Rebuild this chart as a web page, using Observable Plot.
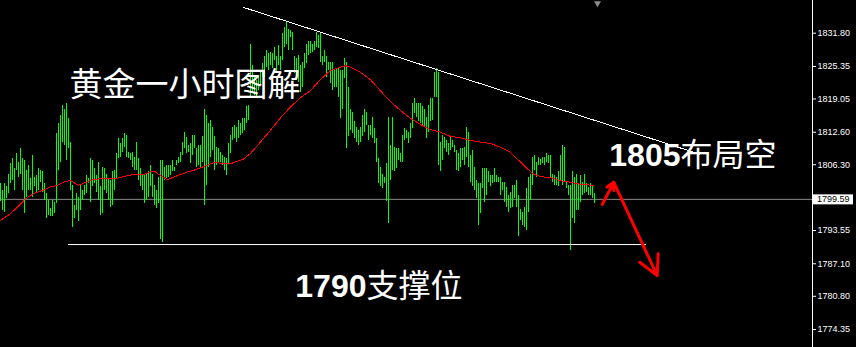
<!DOCTYPE html>
<html><head><meta charset="utf-8">
<script src="https://cdn.jsdelivr.net/npm/d3@7"></script>
<script src="https://cdn.jsdelivr.net/npm/@observablehq/plot@0.6"></script>
<style>
html,body{margin:0;padding:0;background:#000;}
#chart svg{display:block}
</style></head><body><div id="chart"></div>
<script>
// hourly bar highs / lows (gold, 1H)
const highs = [
1802.6,1801.3,1802.6,1802.0,1804.5,1806.5,1807.5,1805.5,1808.4,1806.8,
1809.4,1807.5,1807.1,1805.2,1806.2,1803.6,1808.1,1803.9,1804.2,1805.5,
1805.2,1804.9,1802.6,1800.7,1799.4,1797.8,1799.4,1799.0,1812.3,1814.2,
1815.8,1817.8,1817.1,1818.1,1815.2,1810.7,1802.3,1798.4,1800.7,1800.0,
1802.3,1801.3,1802.3,1804.2,1803.6,1807.5,1807.1,1805.5,1804.2,1806.8,
1802.0,1805.8,1805.5,1804.5,1803.6,1803.3,1804.9,1805.2,1808.4,1811.3,
1810.4,1811.3,1812.3,1812.0,1808.7,1808.4,1808.7,1807.8,1810.7,1807.5,
1805.5,1804.5,1804.2,1804.5,1804.9,1806.2,1804.5,1802.3,1801.3,1803.9,
1807.1,1807.1,1805.8,1806.2,1806.2,1806.2,1807.1,1805.8,1807.1,1807.8,
1808.7,1810.7,1812.6,1811.6,1810.0,1810.4,1812.0,1812.0,1809.4,1810.0,
1810.0,1811.7,1817.1,1815.9,1814.2,1814.9,1813.6,1811.7,1809.7,1809.4,
1808.7,1808.1,1807.8,1807.5,1810.4,1812.0,1813.6,1813.9,1813.6,1814.9,
1814.2,1815.2,1815.2,1817.5,1817.8,1829.7,1825.5,1823.3,1822.6,1823.6,
1824.6,1825.9,1827.2,1828.5,1827.8,1828.1,1827.8,1829.1,1827.2,1829.4,
1827.2,1831.7,1833.0,1833.9,1832.6,1832.3,1832.0,1827.2,1826.8,1827.5,
1825.5,1826.2,1827.8,1829.7,1830.1,1830.1,1829.7,1830.1,1832.0,1831.4,
1831.7,1827.2,1828.4,1827.2,1826.2,1826.2,1826.2,1824.6,1824.9,1825.2,
1824.6,1824.6,1826.8,1826.2,1821.3,1817.1,1816.5,1814.6,1813.6,1813.0,
1813.6,1815.9,1817.1,1816.5,1813.9,1813.9,1815.5,1813.3,1811.3,1807.5,
1805.8,1804.5,1803.9,1806.5,1815.5,1810.0,1815.5,1809.7,1809.4,1809.4,
1808.4,1812.0,1813.3,1812.9,1812.6,1814.2,1818.1,1819.1,1818.1,1818.1,
1818.1,1817.5,1817.1,1815.5,1817.8,1819.1,1819.1,1824.2,1824.9,1824.2,
1810.7,1812.0,1811.6,1811.0,1810.4,1811.6,1811.0,1810.0,1809.1,1808.4,
1809.4,1809.4,1809.7,1813.6,1812.6,1808.1,1809.1,1805.8,1803.3,1802.6,
1802.6,1805.5,1805.5,1805.5,1804.9,1804.2,1804.2,1805.5,1804.2,1803.9,
1803.9,1802.9,1802.9,1801.9,1800.3,1801.0,1802.3,1802.3,1803.2,1800.3,
1797.7,1797.1,1798.1,1801.6,1803.9,1804.5,1807.8,1808.1,1806.8,1807.8,
1807.4,1807.8,1807.8,1808.4,1808.1,1808.1,1804.5,1804.2,1803.9,1804.9,
1808.1,1810.0,1809.7,1802.9,1802.3,1802.3,1804.9,1803.9,1804.5,1802.6,
1804.2,1802.9,1804.5,1802.6,1801.9,1802.6,1802.3,1800.7
];
const lows = [
1799.1,1797.4,1797.1,1799.7,1800.7,1802.6,1803.3,1801.3,1805.2,1803.9,
1804.5,1801.3,1796.8,1800.0,1801.3,1801.3,1800.0,1802.0,1800.7,1801.3,
1802.9,1801.0,1799.4,1795.8,1796.5,1796.2,1796.2,1796.8,1798.7,1805.2,
1806.8,1810.7,1810.0,1807.1,1809.4,1801.3,1794.2,1795.8,1797.4,1795.2,
1797.4,1799.4,1800.3,1800.7,1802.6,1799.0,1802.0,1802.6,1801.0,1799.4,
1796.5,1796.8,1801.3,1800.7,1799.4,1798.1,1798.4,1801.3,1803.6,1807.5,
1807.8,1808.7,1809.7,1807.8,1807.5,1807.1,1805.8,1805.2,1805.2,1803.3,
1802.0,1801.3,1798.7,1799.4,1800.0,1802.0,1800.0,1798.4,1797.8,1798.7,
1791.9,1791.3,1803.3,1803.6,1803.9,1804.2,1804.9,1804.9,1806.2,1806.5,
1806.8,1808.1,1809.4,1808.4,1808.7,1806.5,1808.1,1809.4,1805.8,1806.2,
1805.8,1806.8,1798.4,1802.3,1805.8,1807.8,1809.1,1805.2,1806.2,1806.5,
1806.8,1806.2,1805.2,1804.2,1806.5,1808.4,1811.0,1811.3,1810.7,1811.3,
1812.0,1812.3,1812.9,1814.2,1814.9,1819.1,1820.4,1819.7,1819.4,1820.7,
1821.7,1823.3,1823.3,1825.2,1824.6,1825.5,1824.9,1826.5,1823.9,1825.5,
1824.6,1826.5,1829.1,1829.7,1828.4,1831.0,1828.4,1823.9,1822.6,1822.3,
1820.4,1821.3,1824.9,1825.9,1827.5,1827.8,1828.1,1828.4,1829.1,1828.8,
1826.2,1825.5,1826.2,1823.3,1824.6,1822.0,1820.7,1821.3,1821.3,1819.4,
1815.2,1817.1,1823.0,1809.4,1811.7,1813.0,1812.3,1811.3,1810.7,1810.0,
1810.7,1811.7,1812.6,1813.9,1811.0,1812.0,1811.3,1810.4,1806.8,1802.6,
1802.0,1801.6,1802.6,1799.1,1794.9,1803.3,1805.2,1804.9,1805.5,1807.1,
1806.8,1806.8,1811.0,1811.3,1810.4,1811.3,1813.3,1816.2,1815.5,1814.6,
1814.2,1813.9,1813.6,1811.3,1812.6,1814.6,1814.9,1819.4,1819.4,1806.2,
1804.9,1807.1,1809.4,1808.7,1808.1,1809.1,1809.7,1808.7,1805.2,1804.9,
1805.8,1807.1,1806.2,1807.8,1805.8,1802.9,1802.0,1801.3,1799.7,1794.5,
1796.8,1801.6,1799.0,1800.3,1802.9,1802.0,1802.6,1802.9,1802.9,1802.9,
1800.3,1801.3,1799.0,1798.1,1797.1,1797.8,1798.1,1799.7,1798.1,1792.4,
1795.5,1794.5,1794.2,1793.6,1797.1,1799.4,1802.3,1805.2,1803.9,1806.1,
1806.1,1806.5,1806.1,1806.8,1806.5,1803.6,1802.9,1802.3,1802.3,1802.0,
1803.2,1802.3,1802.9,1801.6,1800.3,1789.7,1795.8,1794.9,1797.4,1797.4,
1799.0,1800.3,1800.7,1801.0,1800.3,1800.3,1799.7,1798.7
];
// red moving average, read at bar positions
const maIndex = [0,5,10,12.5,16.5,21.5,25,28.5,32.5,35,39,41.5,46,50,55,58.5,63.5,66.5,71.5,75,77.5,80,83.5,88.5,93.5,96.5,100,106.5,115,121.5,125,130,135,140,145,150,155,160,165,170,172.5,175,180,185,190,193.5,196.5,200,205,210,215,220,225,230,235,240,245,250,255,260,263.5,266.5,270,275,280,285,290,296.5];
const maValue = [1795.5,1796.8,1798.7,1799.7,1800.7,1801.4,1802.0,1802.3,1803.1,1803.2,1802.3,1802.7,1803.4,1803.6,1803.6,1803.7,1804.2,1804.4,1804.4,1804.9,1804.9,1804.2,1803.4,1804.2,1804.9,1805.2,1805.7,1806.7,1806.5,1807.4,1808.5,1810.7,1813.0,1815.4,1817.5,1819.3,1820.7,1822.8,1824.6,1825.2,1825.5,1825.2,1824.2,1822.8,1820.6,1819.1,1818.0,1816.8,1815.3,1814.1,1813.1,1812.6,1811.8,1811.5,1811.0,1810.7,1810.4,1809.7,1808.7,1806.8,1805.5,1804.5,1804.0,1803.8,1803.2,1802.9,1802.5,1802.3];

const yTicks = [1831.80,1825.35,1819.05,1812.60,1806.30,1793.55,1787.10,1780.80,1774.35];
const lastPrice = 1799.59;

// annotations
const trendIndex = [121.5, 350];
const trendValue = [1836.8, 1808.3];
const supportIndex = [34, 323];
const supportValue = 1790.83;
const arrowFromIndex = [300.85, 306.65];
const arrowFromValue = [1798.6, 1802.9];
const arrowToIndex = [306.65, 328.35];
const arrowToValue = [1802.9, 1784.8];
const titleText = "黄金一小时图解";
const noteDigits = ["1805", "1790"];
const noteWords = ["布局空", "支撑位"];
const noteIndex = [340, 183];
const noteValue = [1806.1, 1780.75];

const bars = highs.map((h, i) => ({i, high: h, low: lows[i]}));
const ma = maIndex.map((i, k) => ({i, v: maValue[k]}));
const arrows = arrowFromIndex.map((x1, k) => ({x1, y1: arrowFromValue[k], x2: arrowToIndex[k], y2: arrowToValue[k]}));
const notes = noteDigits.map((d, k) => ({d, w: noteWords[k], i: noteIndex[k], v: noteValue[k]}));

const cjk = "'Noto Sans CJK SC', 'Noto Sans', sans-serif";
const latin = "'Liberation Sans', Arial, sans-serif";
const chart = Plot.plot({
  width: 856, height: 347,
  marginLeft: 0, marginRight: 44, marginTop: 0, marginBottom: 0,
  style: {background: "#000", color: "#fff", fontFamily: latin, fontSize: "9px"},
  x: {domain: [0, 406], axis: null},
  y: {domain: [1770.87, 1838.14], axis: null},
  marks: [
    Plot.ruleY([lastPrice], {stroke: "#8c8c8c", strokeWidth: 1}),
    Plot.ruleX(bars, {x: "i", y1: "low", y2: "high", stroke: "#00ff00", strokeWidth: 1, shapeRendering: "crispEdges"}),
    Plot.line(ma, {x: "i", y: "v", stroke: "#ff0000", strokeWidth: 1, shapeRendering: "crispEdges"}),
    Plot.link([0], {x1: trendIndex[0], y1: trendValue[0], x2: trendIndex[1], y2: trendValue[1], stroke: "#fff", strokeWidth: 1, shapeRendering: "crispEdges"}),
    Plot.ruleY([supportValue], {x1: supportIndex[0], x2: supportIndex[1], stroke: "#fff", strokeWidth: 1}),
    Plot.arrow(arrows, {x1: "x1", y1: "y1", x2: "x2", y2: "y2", stroke: "#ff0000", strokeWidth: 3, headLength: 11, headAngle: 55}),
    Plot.dot([0], {x: 298.5, y: 1837.6, symbol: "triangle", rotate: 180, r: 2.6, fill: "#8a8a8a", stroke: "none"}),
    Plot.frame({anchor: "right", stroke: "#fff"}),
    Plot.axisY(yTicks, {anchor: "right", tickSize: 3, tickPadding: 2, tickFormat: d => d.toFixed(2), stroke: "#fff", fill: "#fff", label: null, fontSize: 9}),
    Plot.text([titleText], {x: 34.5, y: 1819.72, text: d => d, fill: "#fff", fontSize: 33, fontFamily: cjk, textAnchor: "start", lineAnchor: "bottom"}),
    Plot.text(notes, {x: "i", y: "v", text: "d", fill: "#fff", fontSize: 32, fontWeight: "bold", fontFamily: latin, textAnchor: "end", lineAnchor: "bottom"}),
    Plot.text(notes, {x: "i", y: "v", text: "w", fill: "#fff", fontSize: 32, fontFamily: cjk, textAnchor: "start", lineAnchor: "bottom"})
  ]
});
document.getElementById("chart").append(chart);

// current price label box on the axis, placed through the plot's y scale
const py = chart.scale("y").apply(lastPrice);
const g = d3.select(chart).append("g");
g.append("rect").attr("x", 813).attr("y", py - 4.5).attr("width", 40).attr("height", 10).attr("fill", "#ffffff");
g.append("text").attr("x", 817).attr("y", py + 0.5).attr("dy", "0.32em")
  .attr("text-anchor", "start").attr("fill", "#000000")
  .attr("font-size", 9).attr("font-family", latin).text(lastPrice.toFixed(2));
</script>
</body></html>
